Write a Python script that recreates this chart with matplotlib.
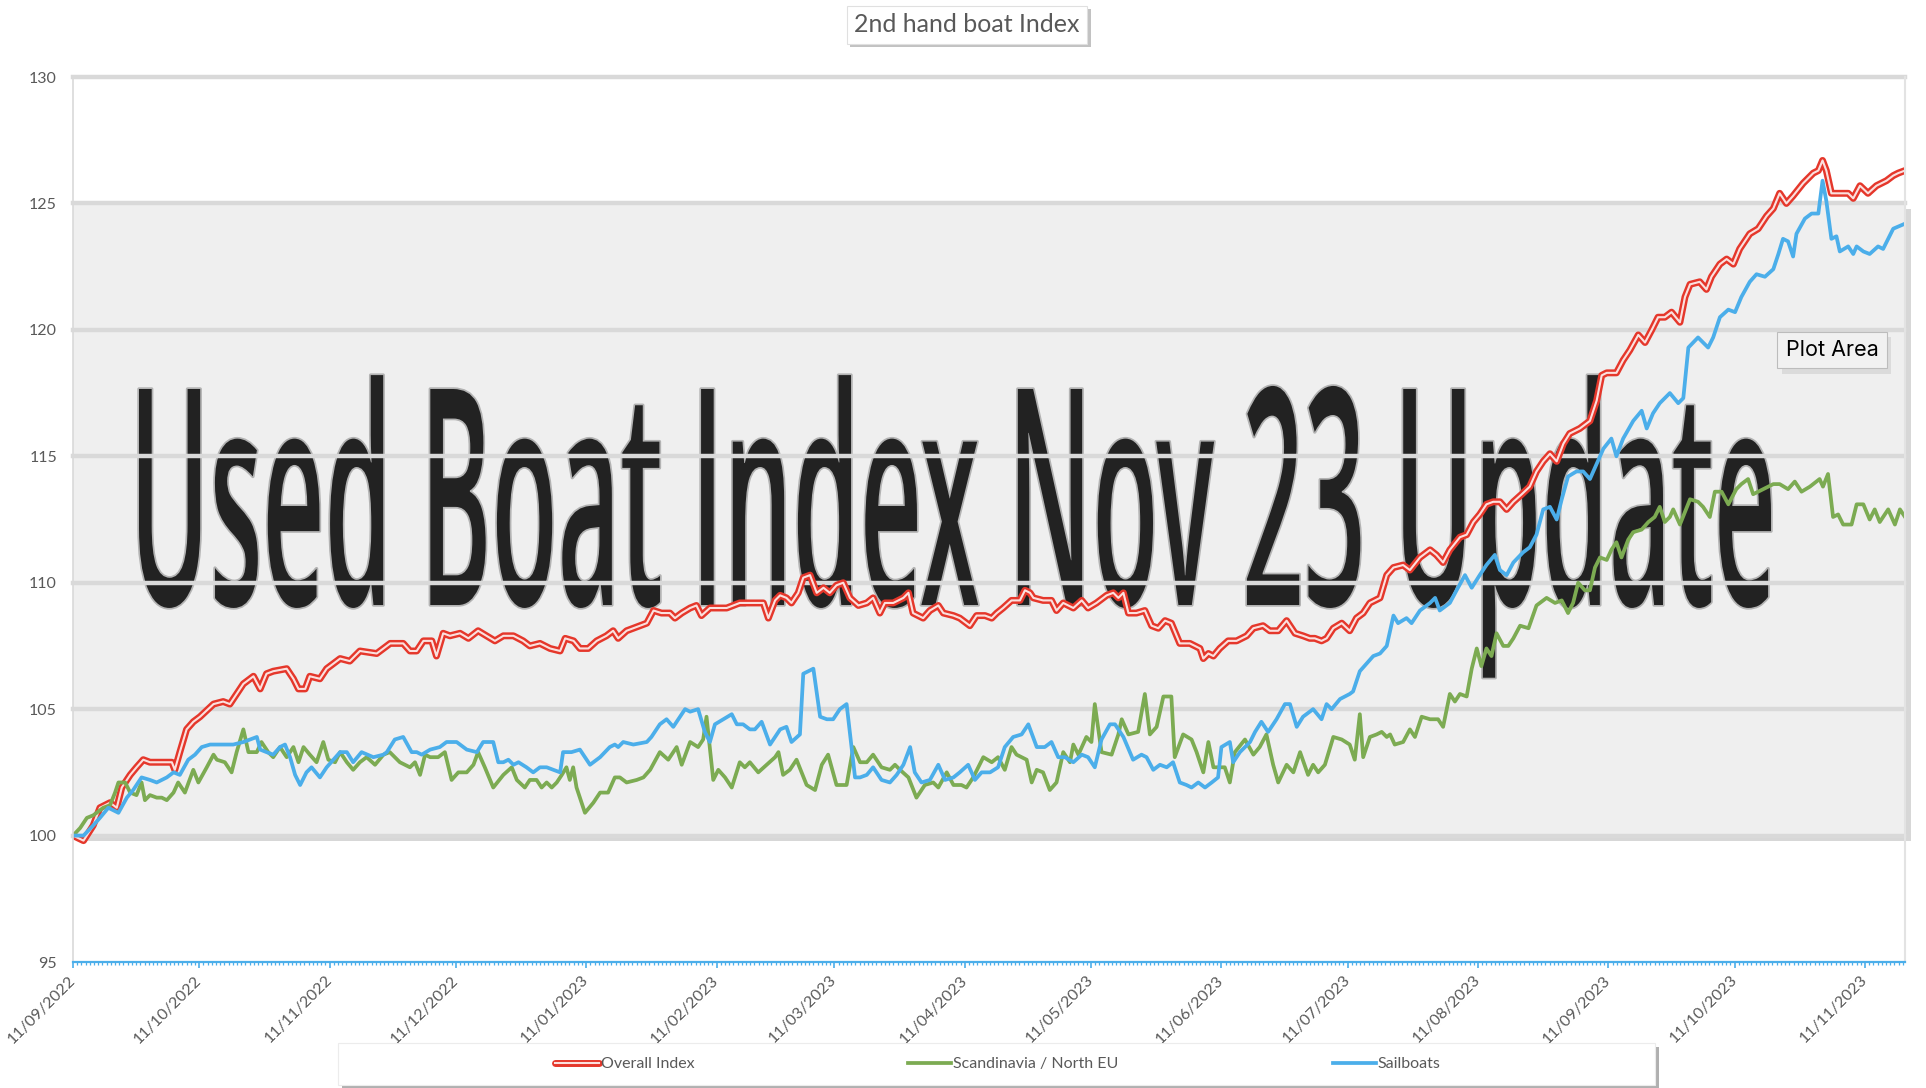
import numpy as np
import pandas as pd
import matplotlib
matplotlib.use("Agg")
import matplotlib.pyplot as plt
import matplotlib.dates as mdates
from matplotlib.patches import Rectangle
from matplotlib.patheffects import AbstractPathEffect, withSimplePatchShadow
from matplotlib.transforms import Affine2D, ScaledTranslation, blended_transform_factory
from matplotlib.textpath import TextPath
from matplotlib.font_manager import FontProperties
from matplotlib.legend_handler import HandlerTuple

plt.rcParams['font.family'] = ['Lato', 'DejaVu Sans']

# ---------------- data ----------------
start_date = "2022-09-11"
series_names = ["Overall Index", "Scandinavia / North EU", "Sailboats"]
chart_title = "2nd hand boat Index"
overlay_text = "Used Boat Index Nov 23 Update"
y_ticks = [95, 100, 105, 110, 115, 120, 125, 130]

overall_days = [0, 2.5, 4.8, 6.4, 8.8, 10.4, 11.6, 13.6, 15.1, 16.7, 18.3, 19.9, 21.5, 23.5, 24.2, 25.4, 27.0, 28.6,
                30.2, 33.4, 35.7, 37.3, 38.9, 40.5, 42.9, 44.5, 46.0, 47.6, 50.8, 52.4, 53.6, 55.2, 56.3, 58.7, 60.3,
                63.5, 65.8, 68.2, 72.2, 75.4, 78.5, 80.1, 81.7, 83.3, 85.3, 86.4, 88.0, 89.6, 92.0, 94.0, 96.3, 98.3,
                100.3, 102.3, 104.7, 107.0, 108.6, 111.0, 113.4, 115.8, 117.0, 119.0, 120.5, 122.5, 124.5, 126.8,
                128.4, 129.6, 131.6, 134.8, 136.4, 138.0, 139.9, 141.9, 143.1, 144.7, 146.7, 148.2, 149.4, 151.4,
                155.4, 158.5, 161.7, 164.1, 165.3, 166.9, 168.1, 169.6, 170.8, 172.4, 173.6, 175.2, 176.8, 178.4,
                179.9, 181.5, 183.1, 184.7, 186.7, 188.7, 190.2, 191.8, 193.0, 195.0, 197.4, 198.6, 199.7, 202.1,
                203.7, 205.7, 206.9, 209.3, 210.8, 213.2, 214.8, 216.8, 218.4, 219.6, 221.1, 223.1, 225.1, 226.3,
                227.5, 228.3, 230.6, 232.6, 233.8, 235.4, 237.8, 239.8, 241.3, 243.3, 245.7, 247.3, 248.5, 249.7,
                250.9, 252.8, 254.8, 256.4, 258.0, 259.6, 261.1, 263.1, 265.5, 267.9, 268.7, 269.9, 271.1, 272.6,
                274.6, 276.6, 279.0, 280.6, 282.9, 284.5, 286.5, 288.5, 290.5, 292.4, 294.0, 295.2, 296.8, 298.0,
                299.6, 301.6, 303.5, 305.1, 306.7, 308.3, 310.7, 312.3, 313.9, 316.2, 317.8, 320.2, 322.6, 324.1,
                325.7, 327.3, 329.7, 331.3, 332.9, 334.4, 336.0, 337.6, 339.2, 340.8, 342.4, 344.4, 346.3, 347.9,
                349.5, 351.1, 352.7, 354.3, 355.8, 358.2, 360.6, 362.2, 363.4, 364.6, 366.9, 368.5, 370.1, 372.1,
                373.7, 375.3, 376.8, 378.4, 380.0, 382.0, 383.2, 384.4, 386.7, 388.3, 389.5, 391.5, 393.1, 394.7,
                396.2, 398.6, 400.6, 402.6, 404.2, 405.7, 407.3, 408.9, 411.3, 413.7, 414.9, 415.9, 416.8, 418.0,
                420.0, 422.0, 423.2, 424.8, 426.7, 428.7, 431.1, 432.7, 433.9, 435.5]
overall_vals = [100.0, 99.8, 100.4, 101.1, 101.3, 101.1, 101.9, 102.4, 102.7, 103.0, 102.9, 102.9, 102.9, 102.9,
                102.6, 103.3, 104.2, 104.5, 104.7, 105.2, 105.3, 105.2, 105.6, 106.0, 106.3, 105.8, 106.4, 106.5,
                106.6, 106.2, 105.8, 105.8, 106.3, 106.2, 106.6, 107.0, 106.9, 107.3, 107.2, 107.6, 107.6, 107.3,
                107.3, 107.7, 107.7, 107.1, 108.0, 107.9, 108.0, 107.8, 108.1, 107.9, 107.7, 107.9, 107.9, 107.7,
                107.5, 107.6, 107.4, 107.3, 107.8, 107.7, 107.4, 107.4, 107.7, 107.9, 108.1, 107.8, 108.1, 108.3,
                108.4, 108.9, 108.8, 108.8, 108.6, 108.8, 109.0, 109.1, 108.7, 109.0, 109.0, 109.2, 109.2, 109.2,
                108.6, 109.3, 109.5, 109.4, 109.2, 109.6, 110.2, 110.3, 109.6, 109.8, 109.6, 109.9, 110.0, 109.4,
                109.1, 109.2, 109.4, 108.8, 109.2, 109.2, 109.4, 109.6, 108.8, 108.6, 108.9, 109.1, 108.8, 108.7,
                108.6, 108.3, 108.7, 108.7, 108.6, 108.8, 109.0, 109.3, 109.3, 109.7, 109.6, 109.4, 109.3, 109.3,
                108.9, 109.2, 109.0, 109.3, 109.0, 109.2, 109.5, 109.6, 109.4, 109.6, 108.8, 108.8, 108.9, 108.3,
                108.2, 108.5, 108.4, 107.6, 107.6, 107.4, 107.0, 107.2, 107.1, 107.4, 107.7, 107.7, 107.9, 108.2,
                108.3, 108.1, 108.1, 108.5, 108.0, 107.9, 107.8, 107.8, 107.7, 107.8, 108.2, 108.4, 108.1, 108.6,
                108.8, 109.2, 109.4, 110.3, 110.6, 110.7, 110.5, 111.0, 111.3, 111.1, 110.8, 111.3, 111.8, 111.9,
                112.4, 112.7, 113.1, 113.2, 113.2, 112.9, 113.2, 113.5, 113.8, 114.4, 114.8, 115.1, 114.8, 115.5,
                115.9, 116.1, 116.4, 117.2, 118.2, 118.3, 118.3, 118.8, 119.2, 119.8, 119.5, 120.0, 120.5, 120.5,
                120.7, 120.3, 121.3, 121.8, 121.9, 121.6, 122.1, 122.6, 122.8, 122.6, 123.2, 123.8, 124.0, 124.5,
                124.8, 125.4, 125.0, 125.3, 125.8, 126.2, 126.3, 126.7, 126.3, 125.4, 125.4, 125.4, 125.2, 125.7,
                125.4, 125.7, 125.9, 126.1, 126.2, 126.3]

scand_days = [0, 1.7, 3.3, 4.8, 7.2, 8.8, 10.0, 10.8, 12.4, 13.6, 15.1, 16.3, 17.1, 18.3, 19.9, 21.1, 22.3, 23.9,
              25.0, 26.6, 28.6, 29.8, 31.8, 33.4, 34.2, 36.1, 37.7, 38.9, 40.5, 41.7, 43.7, 44.8, 46.4, 47.6, 49.2,
              50.8, 52.4, 53.6, 54.8, 56.3, 57.9, 59.5, 60.7, 62.3, 63.5, 65.1, 66.6, 68.2, 69.8, 71.8, 73.8, 75.3,
              77.7, 80.1, 81.3, 82.5, 83.7, 84.9, 86.8, 88.4, 90.0, 91.6, 93.6, 95.2, 96.3, 97.9, 99.9, 102.3, 104.3,
              105.5, 107.4, 108.6, 110.2, 111.4, 112.6, 113.8, 115.0, 116.2, 117.3, 118.1, 118.9, 119.7, 121.7,
              123.7, 125.3, 127.2, 128.8, 130.0, 131.6, 134.0, 135.6, 137.2, 139.5, 141.5, 143.5, 144.7, 146.7,
              148.6, 149.8, 150.6, 152.2, 153.4, 155.0, 156.6, 158.5, 159.7, 160.9, 162.9, 164.9, 166.9, 167.7,
              168.8, 170.4, 172.0, 174.4, 176.4, 178.0, 179.5, 181.5, 183.9, 185.5, 187.1, 188.7, 190.2, 192.2,
              194.2, 195.4, 196.6, 198.6, 200.5, 202.5, 204.5, 205.7, 207.7, 209.3, 211.2, 212.4, 214.0, 216.4,
              218.4, 219.9, 221.5, 223.1, 224.3, 225.5, 226.7, 227.9, 229.1, 230.6, 232.2, 233.8, 235.4, 237.0,
              237.8, 239.0, 240.9, 242.1, 242.9, 244.5, 246.9, 248.5, 249.3, 250.9, 253.2, 254.8, 256.0, 257.6,
              259.2, 261.1, 261.9, 263.9, 265.9, 267.1, 268.7, 269.9, 271.1, 272.6, 273.8, 275.0, 276.2, 278.6,
              280.6, 282.1, 283.7, 285.3, 286.5, 288.5, 290.1, 291.7, 293.6, 294.8, 296.0, 297.6, 299.6, 301.6,
              303.5, 304.7, 305.9, 306.7, 308.3, 309.9, 311.1, 312.3, 313.1, 314.2, 316.2, 317.8, 319.0, 320.6,
              322.6, 324.5, 325.7, 327.3, 328.5, 329.7, 331.3, 332.5, 333.7, 334.8, 336.0, 337.2, 338.4, 340.0,
              341.2, 342.4, 344.0, 346.0, 347.9, 350.3, 352.3, 353.9, 355.4, 356.6, 357.8, 359.4, 360.6, 361.8,
              363.0, 364.6, 365.7, 366.9, 368.1, 369.7, 370.9, 372.9, 374.5, 376.0, 377.2, 378.4, 379.6, 380.4,
              382.0, 384.4, 386.3, 387.5, 389.1, 390.3, 391.9, 393.5, 395.4, 396.6, 398.2, 399.4, 401.8, 404.2,
              405.7, 407.7, 409.3, 410.9, 412.9, 415.2, 416.0, 417.2, 418.4, 419.6, 420.8, 422.8, 424.0, 425.6,
              427.1, 428.3, 429.5, 431.5, 433.1, 434.3, 435.5]
scand_vals = [100.0, 100.3, 100.7, 100.8, 101.1, 101.2, 101.7, 102.1, 102.1, 101.7, 101.6, 102.1, 101.4, 101.6,
              101.5, 101.5, 101.4, 101.7, 102.1, 101.7, 102.6, 102.1, 102.7, 103.2, 103.0, 102.9, 102.5, 103.3,
              104.2, 103.3, 103.3, 103.7, 103.3, 103.1, 103.5, 103.1, 103.5, 102.9, 103.5, 103.2, 102.9, 103.7,
              103.0, 102.9, 103.3, 102.9, 102.6, 102.9, 103.1, 102.8, 103.2, 103.3, 102.9, 102.7, 102.9, 102.4,
              103.2, 103.1, 103.1, 103.3, 102.2, 102.5, 102.5, 102.8, 103.3, 102.7, 101.9, 102.4, 102.7, 102.2,
              101.9, 102.2, 102.2, 101.9, 102.1, 101.9, 102.1, 102.4, 102.7, 102.2, 102.7, 101.9, 100.9, 101.3,
              101.7, 101.7, 102.3, 102.3, 102.1, 102.2, 102.3, 102.6, 103.3, 103.0, 103.5, 102.8, 103.7, 103.5,
              103.8, 104.7, 102.2, 102.6, 102.3, 101.9, 102.9, 102.7, 102.9, 102.5, 102.8, 103.1, 103.3, 102.4,
              102.6, 103.0, 102.0, 101.8, 102.8, 103.2, 102.0, 102.0, 103.5, 102.9, 102.9, 103.2, 102.7, 102.6,
              102.8, 102.6, 102.3, 101.5, 102.0, 102.1, 101.9, 102.5, 102.0, 102.0, 101.9, 102.3, 103.1, 102.9,
              103.1, 102.6, 103.5, 103.2, 103.1, 103.0, 102.1, 102.6, 102.5, 101.8, 102.1, 103.3, 102.9, 103.6,
              103.2, 103.9, 103.7, 105.2, 103.3, 103.2, 104.0, 104.6, 104.0, 104.1, 105.6, 104.0, 104.3, 105.5,
              105.5, 103.1, 104.0, 103.8, 103.3, 102.5, 103.7, 102.7, 102.7, 102.7, 102.1, 103.3, 103.8, 103.2,
              103.5, 104.0, 102.8, 102.1, 102.8, 102.5, 103.3, 102.4, 102.8, 102.5, 102.8, 103.9, 103.8, 103.6,
              103.0, 104.8, 103.1, 103.9, 104.0, 104.1, 103.9, 104.0, 103.6, 103.7, 104.2, 103.9, 104.7, 104.6,
              104.6, 104.3, 105.6, 105.3, 105.6, 105.5, 106.6, 107.4, 106.7, 107.4, 107.1, 108.0, 107.5, 107.5,
              107.8, 108.3, 108.2, 109.1, 109.4, 109.2, 109.3, 108.8, 109.2, 110.0, 109.7, 109.7, 110.6, 111.0,
              110.9, 111.3, 111.6, 111.0, 111.7, 112.0, 112.1, 112.4, 112.6, 113.0, 112.4, 112.6, 112.9, 112.3,
              113.3, 113.2, 113.0, 112.6, 113.6, 113.6, 113.1, 113.7, 113.9, 114.1, 113.5, 113.7, 113.9, 113.9,
              113.7, 114.0, 113.6, 113.8, 114.1, 113.8, 114.3, 112.6, 112.7, 112.3, 112.3, 113.1, 113.1, 112.5,
              112.9, 112.4, 112.9, 112.3, 112.9, 112.6]

sail_days = [0, 2.5, 4.8, 6.4, 8.4, 10.8, 12.8, 14.3, 16.3, 18.3, 19.9, 22.3, 23.9, 25.4, 27.4, 29.0, 30.6, 32.6,
             34.9, 38.1, 40.5, 42.1, 43.7, 44.5, 46.0, 47.6, 49.2, 50.4, 51.6, 52.8, 54.0, 55.5, 56.7, 58.7, 60.3,
             61.9, 63.5, 65.1, 66.6, 68.6, 71.4, 73.8, 74.6, 76.5, 78.5, 80.5, 81.7, 82.9, 84.9, 87.2, 88.8, 91.2,
             93.6, 96.0, 97.5, 99.9, 101.1, 102.3, 103.5, 104.7, 105.9, 107.8, 109.4, 111.0, 112.6, 114.2, 115.8,
             116.5, 118.5, 120.5, 122.9, 125.3, 127.6, 128.8, 129.6, 130.8, 133.2, 136.4, 137.5, 139.5, 141.1,
             142.7, 143.9, 145.5, 146.7, 148.6, 150.2, 151.4, 152.6, 154.6, 156.6, 157.8, 159.3, 160.9, 162.1,
             163.7, 165.7, 168.1, 169.6, 170.8, 172.8, 173.6, 176.0, 177.6, 179.2, 180.7, 182.3, 183.9, 185.9,
             187.1, 188.7, 190.2, 192.2, 194.2, 195.8, 197.4, 199.0, 200.1, 201.7, 203.7, 205.7, 207.3, 209.3,
             210.8, 212.8, 214.4, 216.0, 218.0, 219.9, 221.5, 223.5, 225.5, 227.1, 229.1, 231.0, 232.6, 234.2,
             235.8, 237.8, 239.8, 241.3, 242.9, 244.5, 246.5, 247.7, 249.7, 252.0, 254.0, 255.2, 256.8, 258.4,
             260.0, 261.5, 263.1, 264.7, 265.9, 267.5, 269.1, 270.7, 272.2, 273.0, 275.0, 275.8, 277.4, 279.8,
             281.0, 282.5, 284.1, 286.1, 288.1, 289.3, 290.9, 292.4, 294.8, 296.8, 298.0, 299.2, 301.2, 303.5,
             304.3, 305.9, 307.5, 309.1, 310.7, 312.3, 313.9, 315.0, 317.0, 318.2, 320.2, 322.6, 323.8, 324.9,
             327.3, 328.9, 330.9, 332.5, 334.4, 336.0, 338.0, 339.2, 340.8, 342.4, 344.7, 346.3, 347.9, 349.5,
             351.1, 352.7, 353.9, 355.4, 357.4, 359.0, 360.6, 362.2, 363.8, 365.7, 366.9, 368.5, 370.9, 372.9,
             374.1, 375.6, 377.2, 379.6, 381.6, 382.8, 384.0, 386.3, 388.7, 389.9, 391.5, 393.5, 395.1, 396.6,
             398.6, 400.2, 402.2, 404.2, 405.4, 406.5, 407.7, 408.9, 409.7, 411.7, 413.3, 414.9, 415.9, 416.8,
             418.0, 419.2, 420.0, 422.0, 423.2, 424.0, 425.6, 427.1, 429.1, 430.3, 432.7, 435.5]
sail_vals = [100.0, 100.0, 100.4, 100.7, 101.1, 100.9, 101.5, 101.8, 102.3, 102.2, 102.1, 102.3, 102.5, 102.4,
             103.0, 103.2, 103.5, 103.6, 103.6, 103.6, 103.7, 103.8, 103.9, 103.4, 103.3, 103.2, 103.5, 103.6,
             103.1, 102.4, 102.0, 102.5, 102.7, 102.3, 102.7, 103.0, 103.3, 103.3, 102.9, 103.3, 103.1, 103.2,
             103.3, 103.8, 103.9, 103.3, 103.3, 103.2, 103.4, 103.5, 103.7, 103.7, 103.4, 103.3, 103.7, 103.7,
             102.9, 102.9, 103.0, 102.8, 102.9, 102.7, 102.5, 102.7, 102.7, 102.6, 102.5, 103.3, 103.3, 103.4,
             102.8, 103.1, 103.5, 103.6, 103.5, 103.7, 103.6, 103.7, 103.9, 104.4, 104.6, 104.3, 104.6, 105.0,
             104.9, 105.0, 104.1, 103.7, 104.4, 104.6, 104.8, 104.4, 104.4, 104.2, 104.2, 104.5, 103.6, 104.2,
             104.3, 103.7, 104.0, 106.4, 106.6, 104.7, 104.6, 104.6, 105.0, 105.2, 102.3, 102.3, 102.4, 102.7,
             102.2, 102.1, 102.4, 102.8, 103.5, 102.5, 102.1, 102.2, 102.8, 102.2, 102.3, 102.5, 102.8, 102.2,
             102.5, 102.5, 102.7, 103.5, 103.9, 104.0, 104.4, 103.5, 103.5, 103.7, 103.1, 103.1, 102.9, 103.2,
             103.1, 102.7, 103.8, 104.4, 104.4, 103.9, 103.0, 103.2, 103.1, 102.6, 102.8, 102.7, 102.9, 102.1,
             102.0, 101.9, 102.1, 101.9, 102.1, 102.3, 103.5, 103.7, 102.9, 103.3, 103.7, 104.1, 104.5, 104.1,
             104.6, 105.2, 105.2, 104.3, 104.7, 105.0, 104.6, 105.2, 105.0, 105.4, 105.6, 105.7, 106.5, 106.8,
             107.1, 107.2, 107.5, 108.7, 108.4, 108.6, 108.4, 108.9, 109.2, 109.4, 108.9, 109.2, 109.7, 110.3,
             109.8, 110.3, 110.7, 111.1, 110.5, 110.3, 110.8, 111.2, 111.4, 111.9, 112.9, 113.0, 112.5, 113.3,
             114.2, 114.4, 114.4, 114.1, 114.7, 115.3, 115.7, 115.0, 115.7, 116.4, 116.8, 116.1, 116.7, 117.1,
             117.5, 117.1, 117.3, 119.3, 119.7, 119.3, 119.7, 120.5, 120.8, 120.7, 121.3, 121.9, 122.2, 122.1,
             122.4, 123.0, 123.6, 123.5, 122.9, 123.8, 124.4, 124.6, 124.6, 125.9, 125.1, 123.6, 123.7, 123.1,
             123.3, 123.0, 123.3, 123.1, 123.0, 123.3, 123.2, 124.0, 124.2]

# ---------------- style ----------------
RED = '#e5372b'
GREEN = '#7cab52'
BLUE = '#4baeea'
TXT = '#595959'
GRID = '#d9d9d9'

W, H, DPI = 1926, 1088, 100
fig = plt.figure(figsize=(W / DPI, H / DPI), dpi=DPI)
fig.patch.set_facecolor('white')


def fx(px):
    return px / W


def fy(py):
    return 1 - py / H


ax = fig.add_axes([fx(73), fy(962), fx(1905) - fx(73), fy(77) - fy(962)])
ax.set_facecolor('white')

t0 = pd.Timestamp(start_date)


def to_dates(days):
    return t0 + pd.to_timedelta(np.asarray(days, dtype=float), unit='D')


d_over = to_dates(overall_days)
d_scan = to_dates(scand_days)
d_sail = to_dates(sail_days)

ax.set_xlim(d_over[0], d_over[-1])
ax.set_ylim(y_ticks[0], y_ticks[-1])

# shaded "plot area" band with shadow
band_tr = blended_transform_factory(ax.transAxes, ax.transData)
shadow = Rectangle((0, 100), 1.0, 25, transform=band_tr + ScaledTranslation(4 / 72, -4 / 72, fig.dpi_scale_trans),
                   facecolor='#cdcdcd', edgecolor='none', zorder=0.5, clip_on=False, alpha=0.8)
ax.add_patch(shadow)
band = Rectangle((0, 100), 1.0, 25, transform=band_tr, facecolor='#efefef', edgecolor='none', zorder=0.6,
                 clip_on=False)
ax.add_patch(band)


# big overlay text: real text, drawn stretched vertically about its baseline (as in the reference picture)
class VStretch(AbstractPathEffect):
    def __init__(self, sy, blur_color='#2a2a2a', blur_lw=2.5, blur_alpha=0.3):
        super().__init__()
        self.sy = sy
        self.blur_color = blur_color
        self.blur_lw = blur_lw
        self.blur_alpha = blur_alpha

    def draw_path(self, renderer, gc, tpath, affine, rgbFace=None):
        x0, y0 = affine.transform((0.0, 0.0))
        aff = affine + Affine2D().translate(-x0, -y0).scale(1.0, self.sy).translate(x0, y0)
        if self.blur_lw > 0:
            gc0 = renderer.new_gc()
            gc0.copy_properties(gc)
            gc0.set_foreground(self.blur_color)
            gc0.set_linewidth(self.blur_lw)
            gc0.set_alpha(self.blur_alpha)
            renderer.draw_path(gc0, tpath, aff, None)
            gc0.restore()
        renderer.draw_path(gc, tpath, aff, rgbFace)


big_fp = FontProperties(family='Open Sans', weight='semibold')
target_left, target_right, baseline_px, cap_px = 139, 1771, 605, 216.0
ref_size = 100.0
w_ref_px = TextPath((0, 0), overlay_text, size=ref_size, prop=big_fp).get_extents().width * DPI / 72
big_size_pt = ref_size * (target_right - target_left) / w_ref_px
ext = TextPath((0, 0), overlay_text, size=big_size_pt, prop=big_fp).get_extents()
ink_x0_px = ext.x0 * DPI / 72
cap_now_px = TextPath((0, 0), 'H', size=big_size_pt, prop=big_fp).get_extents().height * DPI / 72
sy = cap_px / cap_now_px
origin_px = target_left - ink_x0_px
big = ax.text(fx(origin_px), fy(baseline_px), overlay_text, transform=fig.transFigure, fontproperties=big_fp,
              fontsize=big_size_pt, color='#222222', ha='left', va='baseline', zorder=1.0, clip_on=False)
big.set_path_effects([VStretch(sy)])

# gridlines
for v in y_ticks[1:]:
    ax.axhline(v, color=GRID, lw=3.2, zorder=1.5, clip_on=False)

# series
l_red, = ax.plot(d_over, overall_vals, color=RED, lw=5.0, solid_joinstyle='round', solid_capstyle='round', zorder=2)
l_white, = ax.plot(d_over, overall_vals, color='white', lw=1.5, alpha=0.85, solid_joinstyle='round', zorder=2.01)
l_green, = ax.plot(d_scan, scand_vals, color=GREEN, lw=2.7, solid_joinstyle='round', zorder=2.1)
l_blue, = ax.plot(d_sail, sail_vals, color=BLUE, lw=2.7, solid_joinstyle='round', zorder=2.2)

# axes styling
ax.set_axisbelow('line')
ax.spines['top'].set_visible(False)
ax.spines['left'].set_color('#d9d9d9')
ax.spines['left'].set_linewidth(1.2)
ax.spines['right'].set_color('#e3e3e3')
ax.spines['right'].set_linewidth(1.5)
ax.spines['bottom'].set_color(BLUE)
ax.spines['bottom'].set_linewidth(1.6)

ax.set_yticks(y_ticks)
ax.tick_params(axis='y', length=0, pad=11.5, labelsize=11.5, labelcolor=TXT)
ax.xaxis.set_major_locator(mdates.MonthLocator(bymonthday=11))
ax.xaxis.set_major_formatter(mdates.DateFormatter('%d/%m/%Y'))
ax.xaxis.set_minor_locator(mdates.DayLocator())
ax.tick_params(axis='x', which='major', length=4.5, width=1.2, color=BLUE, pad=7, labelsize=11.5, labelcolor=TXT)
ax.tick_params(axis='x', which='minor', length=2.5, width=0.9, color=BLUE)
for lab in ax.get_xticklabels():
    lab.set_rotation(45)
    lab.set_ha('right')
    lab.set_va('center')
    lab.set_rotation_mode('anchor')

# title box
ttl = fig.text(fx(967), fy(25), chart_title, ha='center', va='center', fontsize=18, color=TXT,
               bbox=dict(boxstyle='square,pad=0.3', facecolor='white', edgecolor='#e0e0e0', linewidth=0.8))
ttl.get_bbox_patch().set_path_effects([withSimplePatchShadow(offset=(2.5, -2.5), shadow_rgbFace='#9a9a9a', alpha=0.6)])

# tooltip box
tip = fig.text(fx(1832), fy(350), 'Plot Area', ha='center', va='center', fontsize=15.5, color='black',
               family=['Inter', 'DejaVu Sans'],
               bbox=dict(boxstyle='square,pad=0.38', facecolor='#f1f1f1', edgecolor='#bcbcbc', linewidth=0.8))
tip.get_bbox_patch().set_path_effects([withSimplePatchShadow(offset=(3, -4), shadow_rgbFace='#cfcfcf', alpha=0.6)])

# legend frame
leg_frame = Rectangle((fx(338), fy(1085)), fx(1655) - fx(338), fy(1043) - fy(1085), transform=fig.transFigure,
                      facecolor='white', edgecolor='#ececec', linewidth=0.8, zorder=3)
leg_frame.set_path_effects([withSimplePatchShadow(offset=(3, -3), shadow_rgbFace='#8f8f8f', alpha=0.7)])
fig.patches.append(leg_frame)

leg = fig.legend(handles=[(l_red, l_white), l_green, l_blue], labels=series_names, ncol=3, loc='center',
                 bbox_to_anchor=(fx(998), fy(1064)), bbox_transform=fig.transFigure, frameon=False,
                 fontsize=11.5, handlelength=2.7, handletextpad=0.12, columnspacing=13.4,
                 handler_map={tuple: HandlerTuple(ndivide=1, pad=0)})
for t in leg.get_texts():
    t.set_color(TXT)
leg.set_zorder(4)

fig.savefig('out.png', dpi=DPI)
